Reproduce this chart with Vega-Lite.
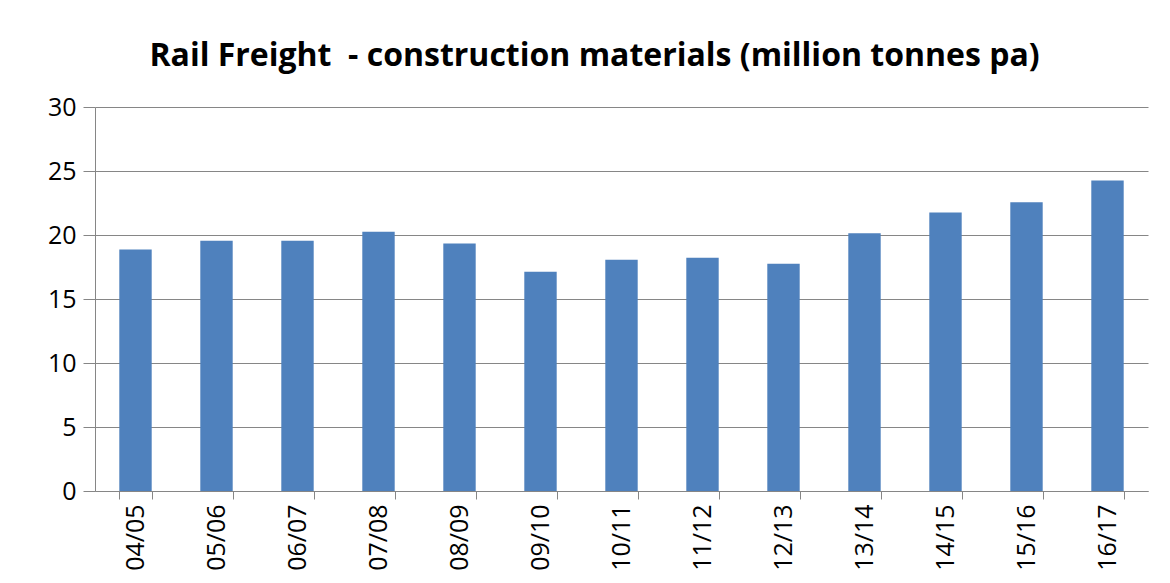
{
  "$schema": "https://vega.github.io/schema/vega-lite/v6.json",
  "autosize": {"type": "none"},
  "width": 1053,
  "height": 384,
  "padding": {"left": 95, "top": 107, "right": 22, "bottom": 92},
  "background": "white",
  "title": {
    "text": "Rail Freight \u00a0- construction materials (million tonnes pa)",
    "font": "Open Sans",
    "fontSize": 32,
    "fontWeight": "bold",
    "color": "#000000",
    "anchor": "middle",
    "dx": -27,
    "offset": 22
  },
  "data": {
    "values": [
      {"year": "04/05", "value": 18.87},
      {"year": "05/06", "value": 19.55},
      {"year": "06/07", "value": 19.55},
      {"year": "07/08", "value": 20.25},
      {"year": "08/09", "value": 19.34},
      {"year": "09/10", "value": 17.12},
      {"year": "10/11", "value": 18.06},
      {"year": "11/12", "value": 18.22},
      {"year": "12/13", "value": 17.75},
      {"year": "13/14", "value": 20.14},
      {"year": "14/15", "value": 21.76},
      {"year": "15/16", "value": 22.56},
      {"year": "16/17", "value": 24.26}
    ]
  },
  "mark": {"type": "bar", "color": "#4F81BD"},
  "encoding": {
    "x": {
      "field": "year",
      "type": "nominal",
      "sort": null,
      "scale": {"paddingInner": 0.6, "paddingOuter": 0.3},
      "axis": {
        "title": null,
        "labelAngle": -90,
        "labelFont": "Open Sans",
        "labelFontSize": 25,
        "labelColor": "#000000",
        "labelPadding": 5,
        "tickBand": "extent",
        "tickSize": 8,
        "tickColor": "#868686",
        "domainColor": "#868686",
        "grid": false
      }
    },
    "y": {
      "field": "value",
      "type": "quantitative",
      "scale": {"domain": [0, 30], "nice": false},
      "axis": {
        "title": null,
        "values": [0, 5, 10, 15, 20, 25, 30],
        "labelFont": "Open Sans",
        "labelFontSize": 25,
        "labelColor": "#000000",
        "labelPadding": 7,
        "tickSize": 12,
        "tickColor": "#868686",
        "domainColor": "#868686",
        "grid": true,
        "gridColor": "#868686",
        "gridWidth": 1
      }
    }
  },
  "config": {
    "view": {"stroke": null}
  }
}
